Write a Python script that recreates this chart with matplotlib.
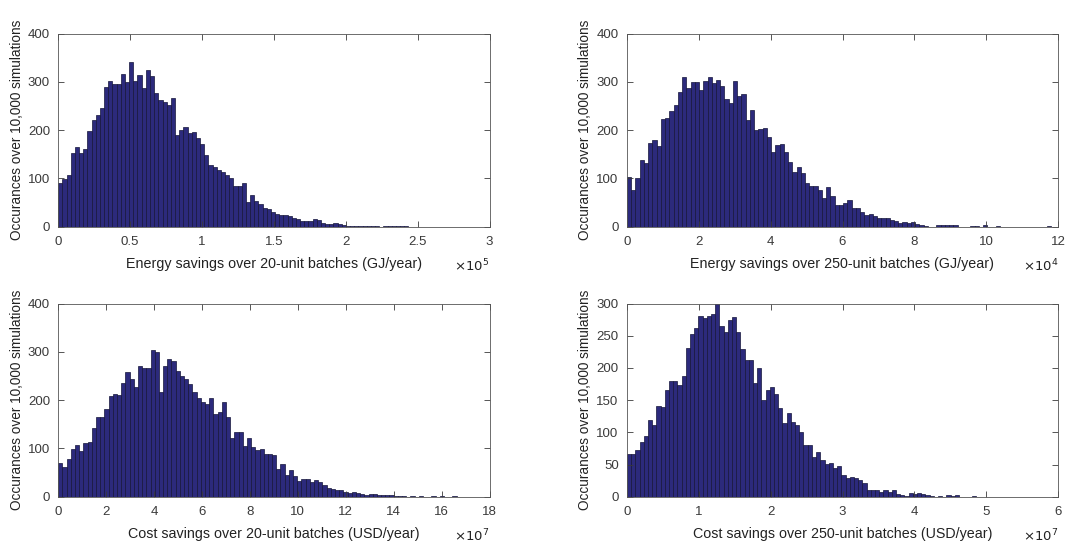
import numpy as np
import matplotlib
matplotlib.use("Agg")
import matplotlib.pyplot as plt
from matplotlib.ticker import FuncFormatter

plt.rcParams['font.family'] = ['Liberation Sans', 'DejaVu Sans']

# ---------------- data (counts per bin, 100 equal bins) ----------------
tl_range = (0.0, 2.9e5)
tl_counts = [91,98,107,153,164,153,160,199,221,232,245,289,301,296,296,316,299,340,301,314,
             287,324,313,277,263,258,253,266,190,201,206,194,197,184,
             172,148,127,124,117,113,107,100,85,85,91,52,65,54,48,38,36,31,27,25,25,23,19,15,
             12,12,12,16,14,7,5,5,
             7,6,4,2,1,2,2,2,2,1,2,0,1,1,1,1,1,1,0,0,0,0,0,0,0,0,0,0,0,0,0,0,0,0]

tr_range = (0.0, 1.18e5)
tr_counts = [103,76,100,139,132,173,179,168,223,225,239,253,278,309,287,299,299,282,301,309,
             297,304,292,265,256,302,270,274,220,242,201,203,
             205,186,155,170,172,155,134,113,124,111,91,84,85,77,60,82,64,45,45,50,
             55,39,39,31,25,27,23,17,17,19,14,12,8,10,7,
             9,5,4,2,0,0,3,3,3,3,4,0,0,0,2,1,0,3,0,0,1,0,0,0,0,0,0,0,0,0,0,0,1]

bl_range = (0.0, 1.75e8)
bl_counts = [69,62,78,98,108,95,112,113,142,164,165,182,208,212,211,235,258,243,227,271,
             267,267,304,299,216,270,285,280,260,249,243,234,216,205,
             196,191,205,172,175,196,165,122,133,133,105,122,103,96,98,89,88,86,58,67,
             45,56,43,33,36,36,31,34,31,24,17,15,14,
             14,9,8,10,8,5,3,5,5,4,4,3,3,2,1,1,0,2,0,2,0,0,1,0,2,0,0,1,0,0,0,0,0]

br_range = (0.0, 5.85e7)
br_counts = [66,67,73,85,94,119,112,141,140,166,179,179,174,188,231,252,262,281,277,280,
             284,301,265,256,275,279,255,229,213,212,176,200,150,
             166,170,160,137,115,130,116,112,100,80,80,62,70,57,51,53,44,48,34,29,30,
             29,26,22,10,11,10,8,10,8,10,4,3,1,
             5,4,6,4,2,1,0,1,0,2,1,2,0,0,0,1,0,0,0,0,0,0,0,0,0,0,0,0,0,0,0,0,0]

ylabel = "Occurances over 10,000 simulations"
xlabels = ["Energy savings over 20-unit batches (GJ/year)",
           "Energy savings over 250-unit batches (GJ/year)",
           "Cost savings over 20-unit batches (USD/year)",
           "Cost savings over 250-unit batches (USD/year)"]
exps = [5, 4, 7, 7]
xmaxes = [3e5, 12e4, 18e7, 6e7]
xsteps = [0.5e5, 2e4, 2e7, 1e7]
ymaxes = [400, 400, 400, 300]
ysteps = [100, 100, 100, 50]

panels = [(tl_range, tl_counts), (tr_range, tr_counts),
          (bl_range, bl_counts), (br_range, br_counts)]

W, H = 1067, 544
fig = plt.figure(figsize=(W / 100, H / 100), dpi=100)

boxes = [(58.3, 33.5, 489.5, 226.7), (627.0, 33.5, 1058.0, 226.7),
         (58.3, 303.5, 489.5, 496.7), (627.0, 303.5, 1058.0, 496.7)]

face = '#2c2a7c'
edge = '#15153a'
axcol = '#3a3a3a'

for k, ((lo, hi), counts) in enumerate(panels):
    x0, y0, x1, y1 = boxes[k]
    ax = fig.add_axes([x0 / W, 1 - y1 / H, (x1 - x0) / W, (y1 - y0) / H])
    counts = np.asarray(counts, dtype=float)
    edges = np.linspace(lo, hi, len(counts) + 1)
    ax.bar(edges[:-1], counts, width=np.diff(edges), align='edge',
           color=face, edgecolor=edge, linewidth=0.5)
    ax.set_xlim(0, xmaxes[k])
    ax.set_ylim(0, ymaxes[k])
    ax.set_xticks(np.arange(0, xmaxes[k] + xsteps[k] / 2, xsteps[k]))
    ax.set_yticks(np.arange(0, ymaxes[k] + 1, ysteps[k]))
    e = exps[k]
    ax.xaxis.set_major_formatter(FuncFormatter(lambda v, p, e=e: f"{v / 10**e:g}"))
    ax.tick_params(direction='in', top=True, right=True, length=4, width=0.6,
                   colors=axcol, labelsize=9.5)
    ax.tick_params(axis='x', pad=7)
    ax.tick_params(axis='y', pad=6)
    for s in ax.spines.values():
        s.set_color('#555555')
        s.set_linewidth(0.6)
    ax.set_ylabel(ylabel, fontsize=9.8, color='#222222', labelpad=3)
    ax.set_xlabel(xlabels[k], fontsize=10.3, color='#222222', labelpad=6)
    ax.text(1.0, -0.205, r'$\times10^{%d}$' % e, transform=ax.transAxes,
            ha='right', va='center', fontsize=9.5, color='#222222')

fig.savefig('out.png', dpi=100)
